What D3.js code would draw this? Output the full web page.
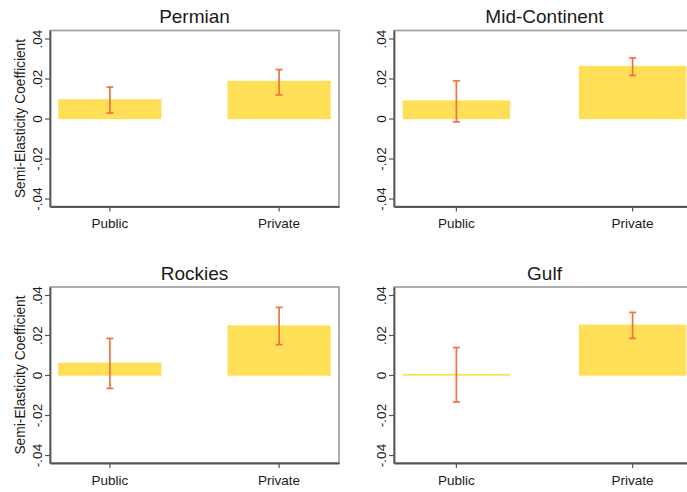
<!DOCTYPE html>
<html>
<head>
<meta charset="utf-8">
<script src="https://cdn.jsdelivr.net/npm/d3@7"></script>
<style>
  html, body { margin: 0; padding: 0; background: #fff; }
  svg { display: block; }
  text { font-family: "Liberation Sans", Arial, sans-serif; fill: #1a1a1a; }
</style>
</head>
<body>
<svg id="chart" width="687" height="492"></svg>
<script>
// Semi-elasticity estimates by basin and ownership, with 95% intervals
const regions = ["Permian", "Mid-Continent", "Rockies", "Gulf"];
const categories = ["Public", "Private"];

const estPublic  = [0.0093, 0.0087, 0.0058, 0.0002];
const estPrivate = [0.0185, 0.0260, 0.0245, 0.0248];

const lowPublic  = [0.0027, -0.0017, -0.0067, -0.0135];
const highPublic = [0.0157,  0.0188,  0.0183,  0.0137];
const lowPrivate  = [0.0118, 0.0215, 0.0152, 0.0183];
const highPrivate = [0.0245, 0.0303, 0.0338, 0.0313];

const tickValues = [-0.04, -0.02, 0, 0.02, 0.04];
const tickLabels = ["-.04", "-.02", "0", ".02", ".04"];

const yTitle = "Semi-Elasticity Coefficient";

const barColor = "#FFDF57";
const errColor = "#F4713F";

const svg = d3.select("#chart");

// Plot-region geometry for the 2x2 grid
const colLeft  = [50, 394];
const colWidth = [289, 301];
const rowTop   = [30.5, 287];
const plotH    = 176;

regions.forEach((name, i) => {
  const col = i % 2, row = Math.floor(i / 2);
  const x0 = colLeft[col], w = colWidth[col];
  const y0 = rowTop[row];

  const g = svg.append("g").attr("transform", `translate(${x0},${y0})`);

  const x = d3.scaleBand()
    .domain(categories)
    .range([0, w])
    .paddingInner(0.398)
    .paddingOuter(0.053);

  const y = d3.scaleLinear()
    .domain([-0.044, 0.044])
    .range([plotH, 0]);

  const rows = categories.map((c, k) => ({
    cat: c,
    est: k === 0 ? estPublic[i] : estPrivate[i],
    lo:  k === 0 ? lowPublic[i] : lowPrivate[i],
    hi:  k === 0 ? highPublic[i] : highPrivate[i]
  }));

  // plot region outline
  g.append("rect")
    .attr("x", 0).attr("y", 0)
    .attr("width", w).attr("height", plotH)
    .attr("fill", "none")
    .attr("stroke", "#9a9a9a")
    .attr("stroke-width", 1.6);

  // bars
  g.selectAll("rect.bar")
    .data(rows)
    .join("rect")
    .attr("class", "bar")
    .attr("x", d => x(d.cat))
    .attr("width", x.bandwidth())
    .attr("y", d => y(Math.max(0, d.est)))
    .attr("height", d => Math.abs(y(d.est) - y(0)))
    .attr("fill", barColor)
    .attr("stroke", barColor)
    .attr("stroke-width", 1.4);

  // error bars
  const cap = 3.5;
  const eb = g.selectAll("g.err").data(rows).join("g").attr("class", "err")
    .attr("stroke", errColor).attr("stroke-width", 1.7).attr("fill", "none");
  eb.append("line")
    .attr("x1", d => x(d.cat) + x.bandwidth() / 2)
    .attr("x2", d => x(d.cat) + x.bandwidth() / 2)
    .attr("y1", d => y(d.lo)).attr("y2", d => y(d.hi));
  eb.append("line")
    .attr("x1", d => x(d.cat) + x.bandwidth() / 2 - cap)
    .attr("x2", d => x(d.cat) + x.bandwidth() / 2 + cap)
    .attr("y1", d => y(d.hi)).attr("y2", d => y(d.hi));
  eb.append("line")
    .attr("x1", d => x(d.cat) + x.bandwidth() / 2 - cap)
    .attr("x2", d => x(d.cat) + x.bandwidth() / 2 + cap)
    .attr("y1", d => y(d.lo)).attr("y2", d => y(d.lo));

  // y axis with rotated tick labels
  const yAxis = g.append("g")
    .call(d3.axisLeft(y)
      .tickValues(tickValues)
      .tickFormat((d, k) => tickLabels[k])
      .tickSize(5)
      .tickSizeOuter(0));
  yAxis.select(".domain").attr("stroke", "#555").attr("stroke-width", 1.8);
  yAxis.selectAll(".tick line").attr("stroke", "#555").attr("stroke-width", 1.2);
  yAxis.selectAll(".tick text")
    .attr("x", null).attr("dy", null)
    .attr("transform", "translate(-8.5,0) rotate(-90)")
    .attr("text-anchor", "middle")
    .style("font-size", "13.5px")
    .style("font-family", "'Liberation Sans', Arial, sans-serif")
    .attr("fill", "#1a1a1a");

  // x axis
  const xAxis = g.append("g")
    .attr("transform", `translate(0,${plotH})`)
    .call(d3.axisBottom(x).tickSize(5).tickSizeOuter(0));
  xAxis.select(".domain").attr("stroke", "#555").attr("stroke-width", 1.8);
  xAxis.selectAll(".tick line").attr("stroke", "#555").attr("stroke-width", 1.2);
  xAxis.selectAll(".tick text")
    .attr("dy", null)
    .attr("y", 21.5)
    .style("font-size", "13.5px")
    .style("font-family", "'Liberation Sans', Arial, sans-serif")
    .attr("fill", "#1a1a1a");

  // panel title
  g.append("text")
    .attr("x", w / 2)
    .attr("y", -7.5)
    .attr("text-anchor", "middle")
    .style("font-size", "19px")
    .text(name);

  // y-axis title on the left column only
  if (col === 0) {
    g.append("text")
      .attr("transform", `translate(${24.5 - x0},${plotH / 2}) rotate(-90)`)
      .attr("text-anchor", "middle")
      .style("font-size", "13.8px")
      .text(yTitle);
  }
});
</script>
</body>
</html>
